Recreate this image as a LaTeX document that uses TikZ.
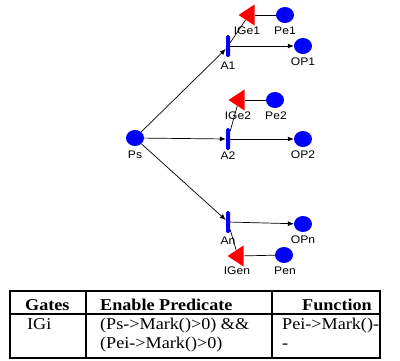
\documentclass[tikz,border=0pt]{standalone}
\usepackage{fontspec}
\setmainfont{Liberation Serif}
\newfontfamily\labelfont[FakeStretch=1.1]{Liberation Sans}
\newfontfamily\tablefont[FakeStretch=1.1]{Liberation Serif}
\usetikzlibrary{shapes.geometric, arrows.meta, positioning}
\definecolor{placeblue}{HTML}{0000FF}
\definecolor{gatered}{HTML}{FF0000}
\tikzstyle{place} = [ellipse, minimum width=18pt, minimum height=16pt, inner sep=0pt, fill=placeblue]
\tikzstyle{activity} = [rectangle, rounded corners=1.5pt, minimum width=4pt, minimum height=22pt, inner sep=0pt, fill=placeblue]
\tikzstyle{gate} = [isosceles triangle, isosceles triangle stretches, shape border rotate=180, minimum width=21pt, minimum height=16pt, inner sep=0pt, fill=gatered, anchor=apex]
\tikzstyle{lbl} = [inner sep=0pt, font=\labelfont\fontsize{11}{12}\selectfont]
\tikzstyle{arrow} = [-{Latex[length=6pt, width=5pt]}, line width=0.7pt]
\tikzstyle{link} = [line width=0.7pt]
\tikzstyle{cell} = [anchor=base west, inner sep=0pt, font=\tablefont\fontsize{16.5}{19}\selectfont]
\tikzstyle{rule} = [line width=1.6pt]

\begin{document}
\begin{tikzpicture}[x=1pt, y=1pt]
    \useasboundingbox (0,0) rectangle (400,-360);

    % Source place
    \node[place] (Ps) at (135,-138) {};

    % Activities
    \node[activity] (A1) at (228,-46) {};
    \node[activity] (A2) at (228,-139) {};
    \node[activity] (An) at (228,-222) {};

    % Output places
    \node[place] (OP1) at (303,-46) {};
    \node[place] (OP2) at (303,-139) {};
    \node[place] (OPn) at (303,-224) {};

    % Input gates and their places
    \node[gate] (IGe1) at (238,-15) {};
    \node[place] (Pe1) at (285,-15) {};
    \node[gate] (IGe2) at (228,-100) {};
    \node[place] (Pe2) at (275,-100) {};
    \node[gate] (IGen) at (227,-256) {};
    \node[place] (Pen) at (284,-255) {};

    % Arcs
    \draw[arrow] (Ps) -- ([yshift=-3pt]A1.west);
    \draw[arrow] (Ps) -- (A2);
    \draw[arrow] (Ps) -- (An);
    \draw[arrow] (A1) -- (OP1);
    \draw[arrow] (A2) -- (OP2);
    \draw[arrow] (An) -- (OPn);
    \draw[link] (Pe1) -- (IGe1);
    \draw[link] (Pe2) -- (IGe2);
    \draw[link] (Pen) -- (IGen);
    \draw[link] (A1) -- (IGe1);
    \draw[link] (A2) -- (IGe2);
    \draw[link] (An) -- (IGen);

    % Labels
    \node[lbl] (PsL) at (135,-155) {Ps};
    \node[lbl] (A1L) at (228,-66) {A1};
    \node[lbl] (A2L) at (228,-156) {A2};
    \node[lbl] (AnL) at (228,-241) {An};
    \node[lbl] (OP1L) at (303,-62) {OP1};
    \node[lbl] (OP2L) at (303,-155) {OP2};
    \node[lbl] (OPnL) at (303,-240) {OPn};
    \node[lbl] (IGe1L) at (247,-31) {IGe1};
    \node[lbl] (Pe1L) at (285,-31) {Pe1};
    \node[lbl] (IGe2L) at (238,-116) {IGe2};
    \node[lbl] (Pe2L) at (276,-116) {Pe2};
    \node[lbl] (IGenL) at (237,-271) {IGen};
    \node[lbl] (PenL) at (285,-271) {Pen};

    % Table
    \draw[rule] (10,-291) rectangle (380,-358);
    \draw[rule] (10,-314) -- (380,-314);
    \draw[rule] (86,-291) -- (86,-358);
    \draw[rule] (272,-291) -- (272,-358);
    \node[cell, font=\tablefont\fontsize{16.5}{19}\selectfont\bfseries] (hgate) at (25,-310) {Gates};
    \node[cell, font=\tablefont\fontsize{16.5}{19}\selectfont\bfseries] (hpred) at (100,-310) {Enable Predicate};
    \node[cell, font=\tablefont\fontsize{16.5}{19}\selectfont\bfseries] (hfunc) at (302,-310) {Function};
    \node[cell] (gate) at (27,-329) {IGi};
    \node[cell] (predA) at (100,-329) {(Ps->Mark()>0) \&\&};
    \node[cell] (predB) at (100,-348) {(Pei->Mark()>0)};
    \node[cell] (funcA) at (282,-329) {Pei->Mark()-};
    \node[cell] (funcB) at (282,-348) {-};
\end{tikzpicture}
\end{document}
